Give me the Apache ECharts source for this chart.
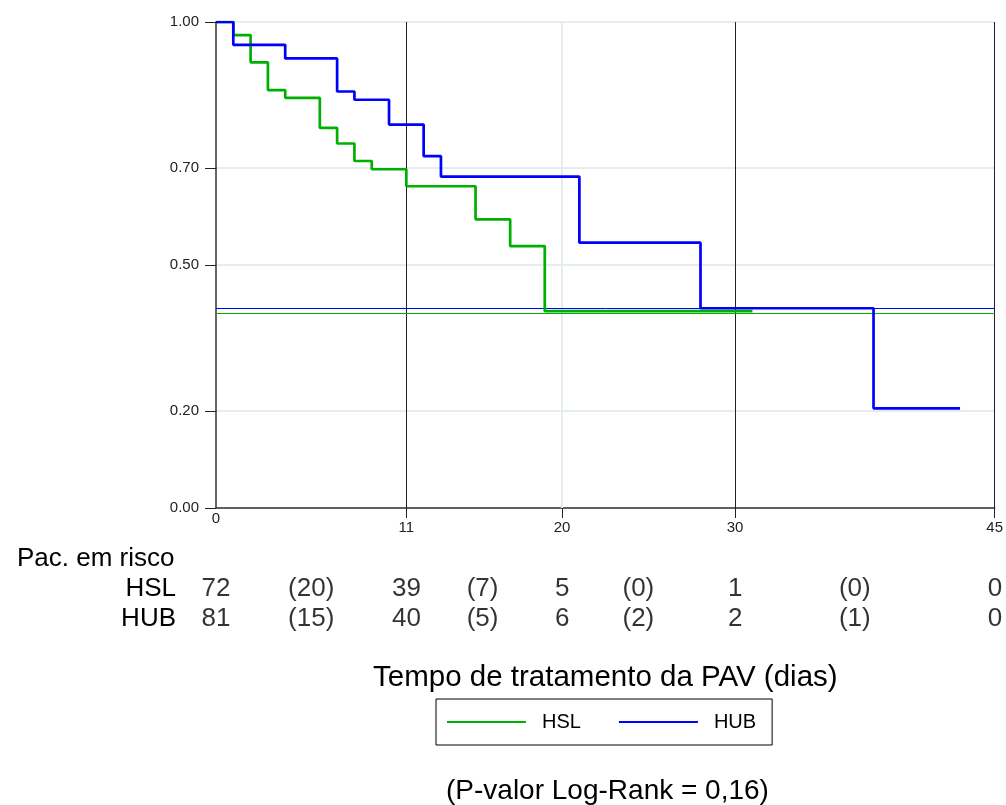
<!DOCTYPE html>
<html>
<head>
<meta charset="utf-8">
<script src="https://cdn.jsdelivr.net/npm/echarts@6/dist/echarts.min.js"></script>
<style>
  html, body { margin: 0; padding: 0; background: #fff; }
  #chart { width: 1006px; height: 805px; }
</style>
</head>
<body>
<div id="chart"></div>
<script>
var FONT = '"Liberation Sans", Arial, sans-serif';

// Kaplan-Meier steps (time in days, survival)
var hslTimes = [0, 1, 2, 3, 4, 6, 7, 8, 9, 11, 15, 17, 19, 31];
var hslSurv  = [1.0, 0.973, 0.917, 0.860, 0.844, 0.782, 0.750, 0.714, 0.697, 0.662, 0.594, 0.539, 0.405, 0.405];
var hubTimes = [0, 1, 4, 7, 8, 10, 12, 13, 21, 28, 38, 43];
var hubSurv  = [1.0, 0.953, 0.925, 0.857, 0.840, 0.789, 0.724, 0.682, 0.546, 0.411, 0.205, 0.205];

// horizontal reference lines
var hslRef = 0.402;
var hubRef = 0.413;

var yTicks = [0, 0.2, 0.5, 0.7, 1.0];
var xTicks = [11, 20, 30, 45];
var blackLines = [11, 30, 45];
var grayLines = [20];

// patients at risk table
var riskTimes = [0, 5.5, 11, 15.4, 20, 24.4, 30, 36.9, 45];
var hslRisk = ['72', '(20)', '39', '(7)', '5', '(0)', '1', '(0)', '0'];
var hubRisk = ['81', '(15)', '40', '(5)', '6', '(2)', '2', '(1)', '0'];

var GREEN = '#00b000';
var BLUE = '#0000ff';

function pairs(xs, ys) {
  return xs.map(function (x, i) { return [x, ys[i]]; });
}
function riskData(row, labels) {
  return riskTimes.map(function (t, i) { return [t, row, labels[i]]; });
}

var chart = echarts.init(document.getElementById('chart'));

var option = {
  animation: false,
  textStyle: { fontFamily: FONT },
  title: [
    {
      text: 'Pac. em risco', left: 12, top: 541,
      textStyle: { fontFamily: FONT, fontSize: 26, fontWeight: 'normal', color: '#000' }
    },
    {
      text: '(P-valor Log-Rank = 0,16)', left: 441, top: 772,
      textStyle: { fontFamily: FONT, fontSize: 28, fontWeight: 'normal', color: '#000' }
    }
  ],
  legend: {
    data: ['HSL', 'HUB'],
    left: 436, top: 699,
    orient: 'horizontal',
    icon: 'rect',
    itemWidth: 79, itemHeight: 2,
    itemGap: 38,
    padding: [13, 16, 13, 11],
    borderColor: '#000', borderWidth: 1,
    textStyle: { fontFamily: FONT, fontSize: 20, color: '#000', padding: [0, 0, 0, 11] }
  },
  grid: [
    { left: 216, right: 11, top: 22, bottom: 297 },
    { left: 216, right: 11, top: 574, height: 60 }
  ],
  xAxis: [
    {
      type: 'value', gridIndex: 0, min: 0, max: 45,
      name: 'Tempo de tratamento da PAV (dias)',
      nameLocation: 'middle', nameGap: 155,
      nameTextStyle: { fontFamily: FONT, fontSize: 29.5, color: '#000' },
      axisLine: { lineStyle: { color: '#333', width: 1.5 } },
      axisTick: { customValues: xTicks, length: 10, lineStyle: { color: '#222' } },
      axisLabel: { customValues: xTicks, margin: 12, fontSize: 15, color: '#222', fontFamily: FONT },
      splitLine: { show: false }
    },
    {
      type: 'value', gridIndex: 0, min: 0, max: 45, position: 'bottom',
      axisLine: { show: false },
      axisTick: { show: false },
      axisLabel: { customValues: [0], margin: 3, fontSize: 15, color: '#222', fontFamily: FONT },
      splitLine: { show: false }
    },
    {
      type: 'value', gridIndex: 1, min: 0, max: 45, show: false
    }
  ],
  yAxis: [
    {
      type: 'value', gridIndex: 0, min: 0, max: 1,
      axisLine: { show: true, lineStyle: { color: '#333', width: 1.5 } },
      axisTick: { show: true, customValues: yTicks, length: 11, lineStyle: { color: '#222' } },
      axisLabel: {
        customValues: yTicks, margin: 17, fontSize: 15, color: '#222', fontFamily: FONT,
        formatter: function (v) { return v.toFixed(2); }
      },
      splitLine: { show: true, lineStyle: { color: '#e6edf0', width: 2 } }
    },
    {
      type: 'category', gridIndex: 1, data: ['HSL', 'HUB'], inverse: true,
      axisLine: { show: false }, axisTick: { show: false },
      axisLabel: { interval: 0, margin: 40, fontSize: 26, color: '#000', fontFamily: FONT },
      splitLine: { show: false }
    }
  ],
  series: [
    {
      name: 'grid lines', type: 'line', xAxisIndex: 0, yAxisIndex: 0, data: [],
      z: 1, silent: true,
      markLine: {
        z: 1,
        symbol: 'none', silent: true, animation: false,
        label: { show: false },
        lineStyle: { color: '#222', width: 1, type: 'solid' },
        data: grayLines.map(function (v) {
          return { xAxis: v, lineStyle: { color: '#e6edf0', width: 2, type: 'solid' } };
        }).concat(blackLines.map(function (v) { return { xAxis: v }; }))
      }
    },
    {
      name: 'HSL', type: 'line', xAxisIndex: 0, yAxisIndex: 0,
      step: 'end', symbol: 'none', z: 3,
      data: pairs(hslTimes, hslSurv),
      color: GREEN,
      lineStyle: { color: GREEN, width: 2.7 },
      markLine: {
        z: 2,
        symbol: 'none', silent: true, label: { show: false },
        lineStyle: { color: GREEN, width: 1, type: 'solid' },
        data: [{ yAxis: hslRef }]
      }
    },
    {
      name: 'HUB', type: 'line', xAxisIndex: 0, yAxisIndex: 0,
      step: 'end', symbol: 'none', z: 4,
      data: pairs(hubTimes, hubSurv),
      color: BLUE,
      lineStyle: { color: BLUE, width: 2.7 },
      markLine: {
        z: 2,
        symbol: 'none', silent: true, label: { show: false },
        lineStyle: { color: BLUE, width: 1, type: 'solid' },
        data: [{ yAxis: hubRef }]
      }
    },
    {
      name: 'risk HSL', type: 'scatter', xAxisIndex: 2, yAxisIndex: 1,
      symbolSize: 0, silent: true,
      data: riskData('HSL', hslRisk),
      label: {
        show: true, position: 'inside', fontSize: 26, color: '#000', fontFamily: FONT,
        formatter: function (p) { return p.value[2]; }
      }
    },
    {
      name: 'risk HUB', type: 'scatter', xAxisIndex: 2, yAxisIndex: 1,
      symbolSize: 0, silent: true,
      data: riskData('HUB', hubRisk),
      label: {
        show: true, position: 'inside', fontSize: 26, color: '#000', fontFamily: FONT,
        formatter: function (p) { return p.value[2]; }
      }
    }
  ]
};

chart.setOption(option);
</script>
</body>
</html>
